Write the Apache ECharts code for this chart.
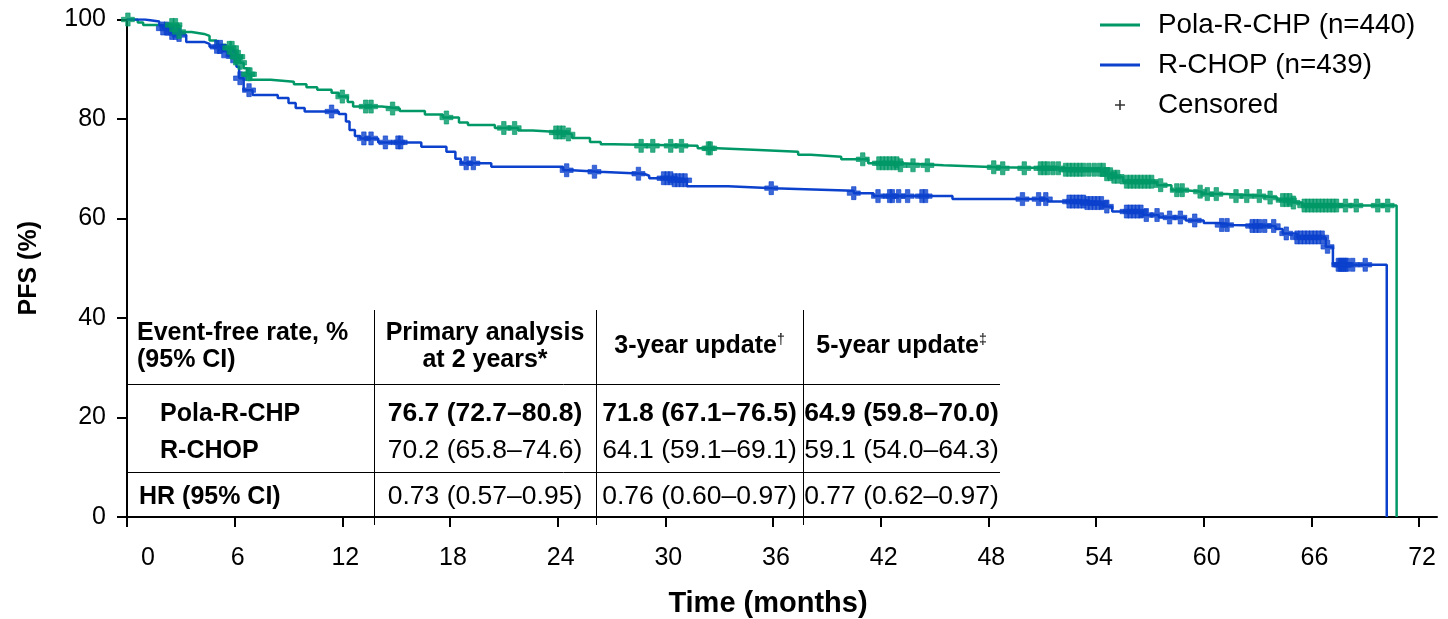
<!DOCTYPE html>
<html>
<head>
<meta charset="utf-8">
<script src="https://cdn.jsdelivr.net/npm/echarts@6/dist/echarts.min.js"></script>
<style>
  html, body { margin: 0; padding: 0; background: #fff; }
  #chart { width: 1448px; height: 619px; }
</style>
</head>
<body>
<div id="chart"></div>
<script>
// ---- Data ---------------------------------------------------------------
const xTicks = [0, 6, 12, 18, 24, 30, 36, 42, 48, 54, 60, 66, 72];
const yTicks = [0, 20, 40, 60, 80, 100];

const seriesNames = ['Pola-R-CHP (n=440)', 'R-CHOP (n=439)'];
const censoredName = 'Censored';

// Kaplan-Meier steps: [month, PFS %] - the value holds from that month on
const polaSteps = [
  [0, 100], [0.6, 99.4], [0.9, 98.9], [2.9, 97.5], [3.6, 97.1], [4.3, 96.7],
  [4.6, 95.8], [5.0, 94.9], [5.5, 94.3], [5.9, 93.6], [6.1, 92.5], [6.3, 91.3],
  [6.5, 90.2], [6.7, 89.0], [6.9, 87.9], [8.0, 87.5], [9.3, 87.0], [10.0, 86.4],
  [10.6, 85.9], [11.4, 85.3], [11.8, 84.5], [12.3, 83.4], [12.6, 82.5], [14.2, 82.1],
  [15.2, 81.6], [16.6, 80.9], [17.6, 80.3], [18.5, 79.3], [19.0, 78.8], [20.5, 78.2],
  [21.8, 77.7], [22.6, 77.3], [24.5, 76.9], [24.8, 76.2], [25.8, 75.4], [26.4, 74.9],
  [27.1, 74.6], [31.8, 74.1], [32.9, 73.8], [34.9, 73.4], [37.4, 72.8], [38.1, 72.4],
  [39.8, 71.9], [41.3, 71.1], [43.0, 70.7], [45.5, 70.3], [48.5, 70.1], [52.2, 69.8],
  [54.5, 68.9], [54.9, 68.4], [55.5, 67.4], [57.4, 66.7], [58.2, 65.7], [59.0, 65.4],
  [59.9, 64.9], [61.3, 64.5], [63.3, 64.2], [64.1, 63.7], [64.9, 63.2], [65.5, 62.6],
  [70.75, 0]
];
const rchopSteps = [
  [0, 100], [1.0, 99.6], [1.8, 98.8], [2.0, 98.2], [2.4, 97.3], [2.8, 96.9],
  [3.3, 95.5], [4.3, 95.1], [4.6, 94.5], [5.3, 93.6], [5.6, 92.6], [6.1, 90.5],
  [6.25, 88.2], [6.5, 85.8], [7.0, 84.8], [8.4, 84.2], [9.0, 83.2], [9.4, 82.2],
  [9.9, 81.5], [11.8, 81.0], [12.2, 79.5], [12.4, 77.8], [12.7, 76.6], [13.0, 76.1],
  [14.0, 75.3], [16.4, 74.4], [17.8, 73.4], [18.3, 72.0], [18.6, 71.1], [20.3, 70.4],
  [24.3, 69.7], [24.8, 69.4], [26.3, 69.0], [28.8, 68.6], [29.1, 68.1], [30.4, 67.7],
  [31.2, 66.5], [33.5, 66.1], [36.0, 65.9], [37.8, 65.6], [40.5, 65.1], [41.6, 64.5],
  [46.0, 63.9], [51.3, 63.4], [53.5, 63.1], [54.4, 62.4], [54.9, 61.4], [56.6, 60.7],
  [57.5, 60.2], [59.0, 59.6], [60.0, 59.1], [60.8, 58.7], [61.6, 58.5], [64.0, 57.9],
  [64.4, 57.0], [65.2, 56.2], [66.8, 54.3], [67.2, 50.7], [70.2, 0]
];

// Censoring times (months)
const polaCensored = [
  0.05, 2.5, 2.7, 2.9, 5.7, 5.85, 6.1, 6.2, 6.3, 6.75, 6.85, 12.0, 13.3, 13.6, 14.8,
  17.8, 21.0, 21.6, 23.9, 24.1, 24.3, 24.6, 28.65, 29.3, 30.3, 30.9, 32.4, 32.5,
  41.0, 41.9, 42.1, 42.3, 42.5, 42.7, 42.9, 43.1, 43.8, 44.6, 48.3, 48.8, 50.0,
  50.9, 51.1, 51.3, 51.6, 51.9, 52.3, 52.5, 52.7, 52.9, 53.1, 53.3, 53.6, 53.9,
  54.2, 54.4, 54.6, 54.8, 55.0, 55.2, 55.7, 55.9, 56.1, 56.3, 56.5, 56.7, 56.9,
  57.1, 57.6, 58.5, 58.8, 59.8, 60.2, 60.7, 61.8, 62.4, 63.1, 63.7, 64.4, 64.6,
  64.8, 65.0, 65.6, 65.8, 66.0, 66.2, 66.4, 66.6, 66.8, 67.0, 67.2, 67.4, 67.9,
  68.5, 69.7, 70.25
];
const rchopCensored = [
  2.0, 2.2, 2.5, 2.7, 2.9, 5.0, 5.2, 5.4, 5.9, 6.3, 6.8, 11.4, 13.2, 13.6, 14.4,
  15.1, 15.25, 18.9, 19.3, 24.5, 26.05, 28.5, 29.9, 30.1, 30.3, 30.5, 30.7, 30.9,
  31.1, 35.9, 40.5, 41.85, 42.5, 42.65, 43.0, 43.5, 44.3, 44.5, 49.9, 50.8, 51.2,
  52.5, 52.7, 52.9, 53.1, 53.3, 53.5, 53.7, 53.9, 54.1, 54.3, 54.6, 55.7, 55.9,
  56.1, 56.3, 56.5, 56.8, 57.4, 58.1, 58.7, 59.5, 61.0, 61.3, 62.7, 62.9, 63.1,
  63.4, 63.9, 64.6, 65.2, 65.4, 65.6, 65.8, 66.0, 66.2, 66.4, 66.6, 66.9, 67.5,
  67.6, 67.7, 67.8, 67.9, 68.0, 68.3, 69.0
];

// Summary table
const tableCornerHeader = 'Event-free rate, %\n(95% CI)';
const tableHeaders = ['Primary analysis\nat 2 years*', '3-year update{sup|†}', '5-year update{sup|‡}'];
const tableRowLabels = ['Pola-R-CHP', 'R-CHOP', 'HR (95% CI)'];
const polaRates = ['76.7 (72.7–80.8)', '71.8 (67.1–76.5)', '64.9 (59.8–70.0)'];
const rchopRates = ['70.2 (65.8–74.6)', '64.1 (59.1–69.1)', '59.1 (54.0–64.3)'];
const hazardRatios = ['0.73 (0.57–0.95)', '0.76 (0.60–0.97)', '0.77 (0.62–0.97)'];

// ---- Helpers --------------------------------------------------------------
function survivalAt(steps, t) {
  let s = steps[0][1];
  for (const [ti, si] of steps) {
    if (ti <= t) s = si; else break;
  }
  return s;
}
const censorPoints = (steps, times) => times.map(t => [t, survivalAt(steps, t)]);

const FONT = "'Liberation Sans', Arial, Helvetica, sans-serif";
const GREEN = '#009866';
const BLUE = '#0B41CD';
const PLUS = 'path://M3.3,0H6.7V3.3H10V6.7H6.7V10H3.3V6.7H0V3.3H3.3Z';
const THIN_PLUS = 'path://M4.2,0H5.8V4.2H10V5.8H5.8V10H4.2V5.8H0V4.2H4.2Z';
const LEGEND_LINE = 'path://M0,0H40V3H0Z';

// ---- Table drawn as graphic elements ----------------------------------------
function buildTable() {
  const L = { x0: 127, x1: 1000, top: 310, headBottom: 384, groupBottom: 472, bottom: 525,
              cols: [374, 596, 803], headY: 346.5, rowY: [414, 451, 497] };
  const centers = [(L.cols[0] + L.cols[1]) / 2, (L.cols[1] + L.cols[2]) / 2, (L.cols[2] + L.x1) / 2];
  const els = [];
  const line = (x1, y1, x2, y2) => els.push({ type: 'line', silent: true,
    shape: { x1, y1, x2, y2 }, style: { stroke: '#000', lineWidth: 1 } });
  line(L.x0, L.headBottom + 0.5, L.x1, L.headBottom + 0.5);
  line(L.x0, L.groupBottom + 0.5, L.x1, L.groupBottom + 0.5);
  L.cols.forEach(c => line(c + 0.5, L.top, c + 0.5, L.bottom));

  const text = (str, x, y, opts) => els.push({ type: 'text', silent: true, x, y,
    style: Object.assign({ text: str, fill: '#000', fontFamily: FONT, fontSize: 25,
      fontWeight: 'bold', align: 'center', verticalAlign: 'middle', lineHeight: 27 }, opts) });

  text(tableCornerHeader, 137, L.headY, { align: 'left' });
  const sup = { sup: { fontSize: 14, fontFamily: FONT, fontWeight: 'normal', verticalAlign: 'top', lineHeight: 27 } };
  tableHeaders.forEach((h, i) => text(h, centers[i], L.headY, { rich: sup }));

  text(tableRowLabels[0], 160, L.rowY[0], { align: 'left' });
  text(tableRowLabels[1], 160, L.rowY[1], { align: 'left' });
  text(tableRowLabels[2], 139, L.rowY[2], { align: 'left' });
  polaRates.forEach((v, i) => text(v, centers[i], L.rowY[0], { fontSize: 26.5 }));
  rchopRates.forEach((v, i) => text(v, centers[i], L.rowY[1], { fontSize: 26.5, fontWeight: 'normal' }));
  hazardRatios.forEach((v, i) => text(v, centers[i], L.rowY[2], { fontSize: 26.5, fontWeight: 'normal' }));
  return els;
}

// ---- Chart ----------------------------------------------------------------
const chart = echarts.init(document.getElementById('chart'), null, { renderer: 'canvas' });

const axisLine = { show: true, onZero: false, lineStyle: { color: '#000', width: 2 } };
const axisTick = { show: true, length: 10, lineStyle: { color: '#000', width: 2 } };

chart.setOption({
  animation: false,
  backgroundColor: '#fff',
  grid: { left: 127, right: 11, top: 19.5, bottom: 102, containLabel: false, outerBoundsMode: 'none' },
  legend: {
    orient: 'vertical', left: 1100, top: 10, padding: 0, itemGap: 10,
    itemWidth: 40, itemHeight: 10, selectedMode: false,
    textStyle: { fontFamily: FONT, fontSize: 27.8, color: '#000', lineHeight: 30, padding: [0, 0, 0, 13] },
    data: [
      { name: seriesNames[0], icon: LEGEND_LINE },
      { name: seriesNames[1], icon: LEGEND_LINE },
      { name: censoredName, icon: THIN_PLUS, itemStyle: { color: '#000', borderWidth: 0 } }
    ]
  },
  xAxis: {
    type: 'value', min: 0, max: 73,
    name: 'Time (months)', nameLocation: 'middle', nameGap: 72,
    nameTextStyle: { fontFamily: FONT, fontSize: 29, fontWeight: 'bold', color: '#000', padding: [0, 28, 0, 0] },
    axisLine,
    axisTick: Object.assign({ customValues: xTicks }, axisTick),
    axisLabel: {
      customValues: xTicks, margin: 29, color: '#000', fontFamily: FONT, fontSize: 25,
      formatter: v => v === 0 ? '{z|0}' : '{n|' + v + '}',
      rich: {
        z: { fontFamily: FONT, fontSize: 25, color: '#000', padding: [0, 0, 0, 42] },
        n: { fontFamily: FONT, fontSize: 25, color: '#000', padding: [0, 0, 0, 6] }
      }
    },
    splitLine: { show: false }
  },
  yAxis: {
    type: 'value', min: 0, max: 100, interval: 20,
    name: 'PFS (%)', nameLocation: 'middle', nameGap: 85,
    nameTextStyle: { fontFamily: FONT, fontSize: 25, fontWeight: 'bold', color: '#000' },
    axisLine, axisTick,
    axisLabel: {
      customValues: yTicks, margin: 21, color: '#000', fontFamily: FONT, fontSize: 25
    },
    splitLine: { show: false }
  },
  series: [
    {
      name: seriesNames[0], type: 'line', step: 'end', data: polaSteps,
      showSymbol: false, symbol: 'none', color: GREEN,
      lineStyle: { color: GREEN, width: 2.5 }, z: 2
    },
    {
      name: seriesNames[1], type: 'line', step: 'end', data: rchopSteps,
      showSymbol: false, symbol: 'none', color: BLUE,
      lineStyle: { color: BLUE, width: 2.5 }, z: 3
    },
    {
      name: censoredName, type: 'scatter', data: censorPoints(rchopSteps, rchopCensored),
      symbol: PLUS, symbolSize: 13,
      itemStyle: { color: BLUE, borderColor: BLUE, borderWidth: 0.8 }, z: 4
    },
    {
      name: censoredName, type: 'scatter', data: censorPoints(polaSteps, polaCensored),
      symbol: PLUS, symbolSize: 13,
      itemStyle: { color: GREEN, borderColor: GREEN, borderWidth: 0.8 }, z: 5
    }
  ],
  graphic: buildTable()
});
</script>
</body>
</html>
